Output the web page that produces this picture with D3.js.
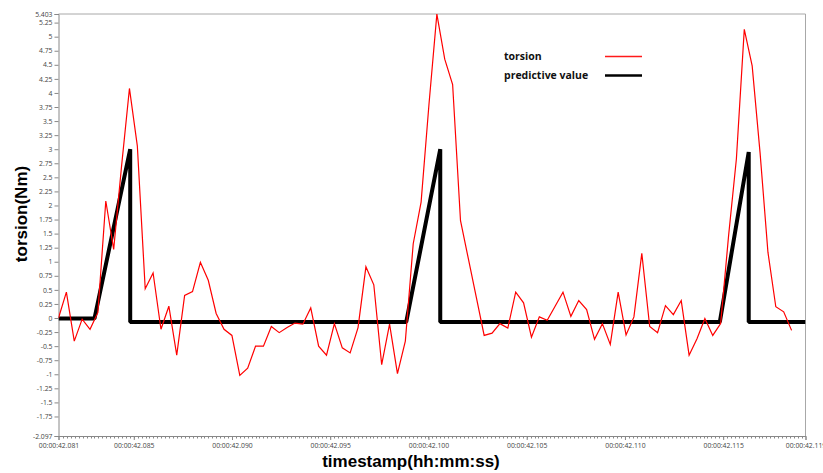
<!DOCTYPE html>
<html><head><meta charset="utf-8">
<script src="https://cdn.jsdelivr.net/npm/d3@7"></script>
<style>body{margin:0;background:#fff} svg{display:block}</style>
</head><body>
<script>
// ---- data ----
const torsionValues = [
  0.00, 0.46, -0.41, -0.02, -0.20, 0.10, 2.08, 1.22, 2.70, 4.08,
  3.06, 0.52, 0.80, -0.20, 0.21, -0.66, 0.40, 0.47, 0.99, 0.67,
  0.08, -0.20, -0.31, -1.02, -0.89, -0.50, -0.50, -0.15, -0.26, -0.17,
  -0.09, -0.11, 0.18, -0.50, -0.66, -0.10, -0.53, -0.62, -0.17, 0.91,
  0.59, -0.83, -0.11, -0.99, -0.41, 1.32, 2.06, 3.80, 5.40, 4.60,
  4.15, 1.73, 1.05, 0.37, -0.31, -0.27, -0.10, -0.18, 0.46, 0.27,
  -0.34, 0.02, -0.04, 0.21, 0.46, 0.03, 0.31, 0.15, -0.38, -0.10,
  -0.47, 0.46, -0.30, 0.02, 1.15, -0.15, -0.26, 0.22, 0.06, 0.31,
  -0.66, -0.37, -0.01, -0.31, -0.10, 1.45, 2.83, 5.13, 4.48, 2.94,
  1.17, 0.20, 0.11, -0.22
];
const sampleStart = 42.08117;     // seconds
const samplePeriod = 0.0004012;   // seconds

const predictiveTimes  = [42.08117, 42.08300, 42.08482, 42.08482, 42.09887, 42.10060, 42.10060, 42.11483, 42.11630, 42.11630, 42.11919];
const predictiveValues = [-0.01,    -0.01,    3.00,     -0.07,    -0.07,    3.00,     -0.07,    -0.07,    2.95,     -0.07,    -0.07];

const xDomain = [42.08117, 42.11919];
const yDomain = [-2.097, 5.403];
const xTickValues = [42.08117, 42.085, 42.090, 42.095, 42.100, 42.105, 42.110, 42.115, 42.11919];
const yTickValues = [-2.097, -1.75, -1.5, -1.25, -1, -0.75, -0.5, -0.25, 0, 0.25, 0.5, 0.75, 1, 1.25, 1.5, 1.75, 2, 2.25, 2.5, 2.75, 3, 3.25, 3.5, 3.75, 4, 4.25, 4.5, 4.75, 5, 5.25, 5.403];
const seriesNames = ["torsion", "predictive value"];
const xTitle = "timestamp(hh:mm:ss)";
const yTitle = "torsion(Nm)";

// ---- layout ----
const W = 823, H = 473;
const L = 58.5, R = 805.5, T = 14, B = 436;

const svg = d3.select("body").append("svg").attr("width", W).attr("height", H);

const x = d3.scaleLinear().domain(xDomain).range([L, R]);
const y = d3.scaleLinear().domain(yDomain).range([B, T]);

const tickFont = "'Open Sans', sans-serif";

// frame (top & right)
svg.append("path")
  .attr("d", `M${L},${T}H${R}V${B}`)
  .attr("fill", "none").attr("stroke", "#a8a8a8").attr("stroke-width", 1);

// minor x ticks
const minorTicks = d3.range(42.0814, 42.1192, 0.0002);
svg.append("g").selectAll("line").data(minorTicks).join("line")
  .attr("x1", d => Math.round(x(d)) + 0.5).attr("x2", d => Math.round(x(d)) + 0.5)
  .attr("y1", B).attr("y2", B + 2.5)
  .attr("stroke", "#888").attr("stroke-width", 1);

// x axis
const xAxis = d3.axisBottom(x).tickValues(xTickValues).tickSize(4).tickPadding(3)
  .tickFormat(d => "00:00:" + d.toFixed(3));
const gx = svg.append("g").attr("transform", `translate(0,${B})`).call(xAxis);
gx.select(".domain").attr("stroke", "#888");
gx.selectAll(".tick line").attr("stroke", "#888");
gx.selectAll("text").attr("font-family", tickFont).attr("font-size", 6.8).attr("fill", "#444");

// y axis
const yAxis = d3.axisLeft(y).tickValues(yTickValues).tickSize(4).tickPadding(2)
  .tickFormat(d => String(d));
const gy = svg.append("g").attr("transform", `translate(${L},0)`).call(yAxis);
gy.select(".domain").attr("stroke", "#888");
gy.selectAll(".tick line").attr("stroke", "#888");
gy.selectAll("text").attr("font-family", tickFont).attr("font-size", 6.8).attr("fill", "#444");

// clip
svg.append("clipPath").attr("id", "plotclip").append("rect")
  .attr("x", L).attr("y", T - 2).attr("width", R - L).attr("height", B - T + 2);

const torsionData = torsionValues.map((v, i) => ({t: sampleStart + i * samplePeriod, v}));
const predData = predictiveTimes.map((t, i) => ({t, v: predictiveValues[i]}));

const line = d3.line().x(d => x(d.t)).y(d => y(d.v));

const plot = svg.append("g").attr("clip-path", "url(#plotclip)");
plot.append("path").datum(predData).attr("d", line)
  .attr("fill", "none").attr("stroke", "#000").attr("stroke-width", 4)
  .attr("stroke-linejoin", "bevel");
plot.append("path").datum(torsionData).attr("d", line)
  .attr("fill", "none").attr("stroke", "#ff0000").attr("stroke-width", 1.2);

// legend
const legend = svg.append("g");
const legendColors = ["#ff1a1a", "#000"];
const legendWidths = [1.6, 2.6];
const legendY = [56.5, 75.5];
seriesNames.forEach((name, i) => {
  legend.append("text").attr("x", 504).attr("y", legendY[i] + 3.5)
    .attr("font-family", "'Open Sans', sans-serif").attr("font-weight", "bold")
    .attr("font-size", 10.5).attr("fill", "#111").text(name);
  legend.append("line").attr("x1", 605).attr("x2", 642)
    .attr("y1", legendY[i]).attr("y2", legendY[i])
    .attr("stroke", legendColors[i]).attr("stroke-width", legendWidths[i]);
});

// axis titles
svg.append("text").attr("x", 411).attr("y", 467).attr("text-anchor", "middle")
  .attr("font-family", "'Liberation Sans', Arial, sans-serif").attr("font-weight", "bold")
  .attr("font-size", 17).attr("fill", "#000").text(xTitle);
svg.append("text").attr("transform", "translate(27,214) rotate(-90)").attr("text-anchor", "middle")
  .attr("font-family", "'Liberation Sans', Arial, sans-serif").attr("font-weight", "bold")
  .attr("font-size", 17).attr("fill", "#000").text(yTitle);
</script>
</body></html>
